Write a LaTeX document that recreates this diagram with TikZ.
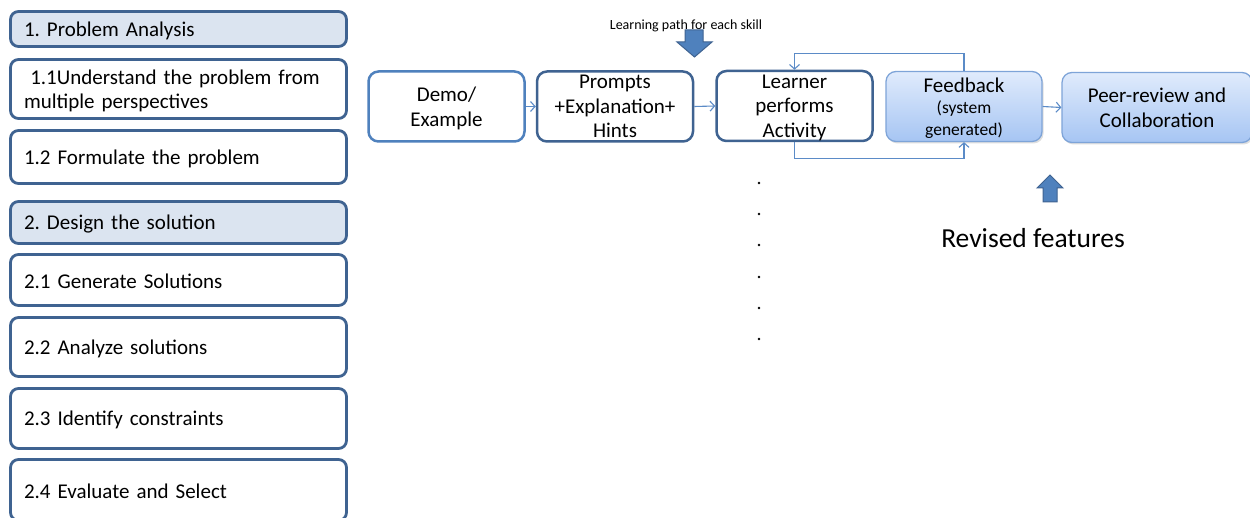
\documentclass[tikz,border=0pt]{standalone}
\usepackage{fontspec}
\setmainfont{Carlito}
\usetikzlibrary{arrows.meta,shadows}
\frenchspacing

\definecolor{frame}{HTML}{3F6391}
\definecolor{accent}{HTML}{4F81BD}
\definecolor{headfill}{HTML}{DBE4F0}
\definecolor{gradtop}{HTML}{E0EBFC}
\definecolor{gradbot}{HTML}{A6C5F3}
\definecolor{gradframe}{HTML}{7EA4D8}
\definecolor{linkblue}{HTML}{5B8BC7}

\tikzset{
  stepbox/.style={draw=frame, line width=2.8pt, rounded corners=8pt, fill=white,
    minimum width=336pt, text width=309pt, inner xsep=13.5pt, align=left,
    font=\fontsize{21}{24}\selectfont, text height=17.5pt},
  headbox/.style={stepbox, fill=headfill},
  flowbox/.style={draw=frame, line width=2.5pt, rounded corners=10pt, fill=white,
    minimum width=156pt, minimum height=70pt, align=center, inner sep=2pt,
    font=\fontsize{21}{24.5}\selectfont, text depth=-1pt},
  gradbox/.style={flowbox, draw=gradframe, line width=1.3pt, top color=gradtop, bottom color=gradbot,
    drop shadow={shadow xshift=1.5pt, shadow yshift=-2pt, opacity=0.25}},
  link/.style={draw=linkblue, line width=1.1pt, -{Straight Barb[length=4.5pt,width=10pt,line width=1.1pt]}},
  bigarrow/.style={fill=accent, draw=frame, line width=1pt, line join=miter},
  dot/.style={circle, fill=black, inner sep=0pt, minimum size=2.6pt}
}

\begin{document}
\begin{tikzpicture}[x=1pt,y=-1pt]
\clip (0,0) rectangle (1250,518);
\fill[white] (0,0) rectangle (1250,518);

% skill breakdown column
\node[headbox, minimum height=35pt] (pa) at (178.5,29) {1. Problem Analysis};
\node[stepbox, minimum height=59pt] (s11) at (178.5,89) {\hspace{0.3em}1.1Understand the problem from multiple perspectives};
\node[stepbox, minimum height=53pt] (s12) at (178.5,157) {1.2 Formulate the problem};
\node[headbox, minimum height=42pt] (ds) at (178.5,222.5) {2. Design the solution};
\node[stepbox, minimum height=51pt] (s21) at (178.5,280) {2.1 Generate Solutions};
\node[stepbox, minimum height=59pt] (s22) at (178.5,347) {2.2 Analyze solutions};
\node[stepbox, minimum height=60pt] (s23) at (178.5,418.5) {2.3 Identify constraints};
\node[stepbox, minimum height=61pt] (s24) at (178.5,490) {2.4 Evaluate and Select};

% learning path
\node[flowbox, draw=accent] (demo) at (446.5,106.5) {Demo/\\Example};
\node[flowbox] (prompts) at (615,106.5) {Prompts\\+Explanation+\\Hints};
\node[flowbox] (learner) at (794.5,106) {Learner\\performs\\Activity};
\node[gradbox, font=\fontsize{17.5}{21.5}\selectfont] (fb) at (964,106.5)
  {{\fontsize{21}{21.5}\selectfont Feedback}\\(system\\generated)};
\node[gradbox, minimum width=190pt] (peer) at (1157,107.5) {Peer-review and\\Collaboration};

\draw[link] (demo.east) -- (prompts.west);
\draw[link] (prompts.east) -- (learner.west);
\draw[link] (fb.east) -- (peer.west);
\draw[link] (fb.north) -- ++(0,-17) -| (learner.north);
\draw[link] (learner.south) -- ++(0,16) -| (fb.south);

% label and arrow feeding the path
\node[font=\fontsize{14}{16}\selectfont] (lp) at (686,26) {Learning path for each skill};
\draw[bigarrow] (685,30) -- (703,30) -- (703,42) -- (712,42) -- (694.5,57) -- (677,42) -- (685,42) -- cycle;

% continuation dots below the activity
\foreach \i/\yy in {1/183,2/214,3/245,4/277,5/308,6/339}
  \node[dot] (d\i) at (759,\yy) {};

% revised features marker
\draw[bigarrow] (1043,202) -- (1057,202) -- (1057,188) -- (1063,188) -- (1050,175) -- (1037,188) -- (1043,188) -- cycle;
\node[font=\fontsize{27.5}{30}\selectfont] (rev) at (1033,238) {Revised features};
\end{tikzpicture}
\end{document}
